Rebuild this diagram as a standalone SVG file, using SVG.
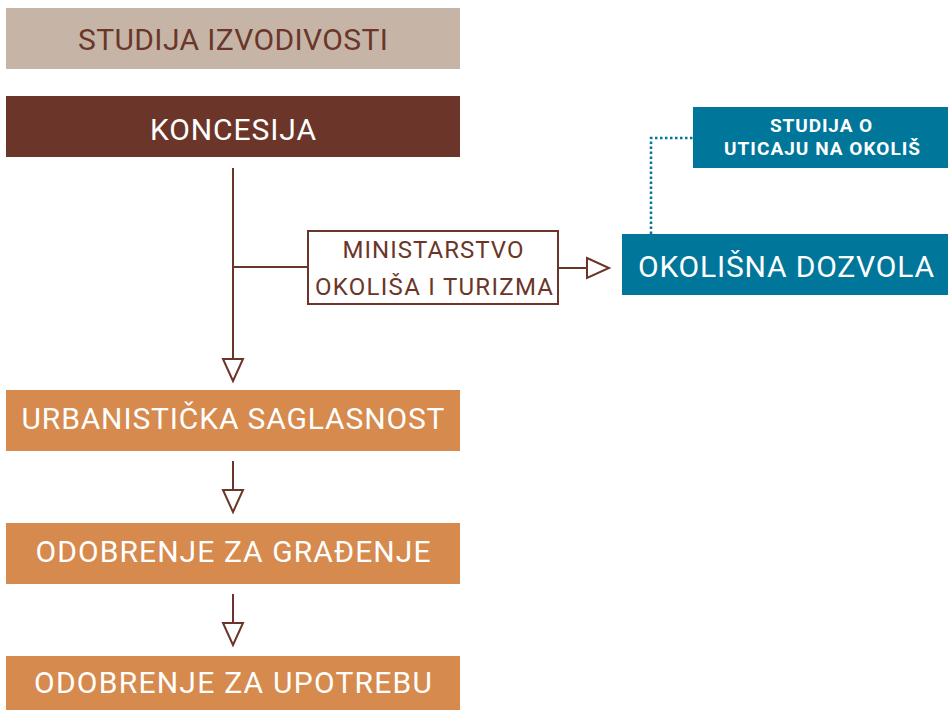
<svg xmlns="http://www.w3.org/2000/svg" width="948" height="710" viewBox="0 0 948 710">
<style>
.t{font-family:Roboto,"DejaVu Sans",sans-serif;text-anchor:middle}
.big{font-size:30px;fill:#fff}
.con{fill:none;stroke:#6b3629;stroke-width:2}
.head{fill:#fff;stroke:#6b3629;stroke-width:2;stroke-linejoin:miter}
</style>
<rect width="948" height="710" fill="#fff"/>
<g id="connectors">
<path class="con" d="M233 168V380M233 267H308M558 268H607M233 461V510M233 594V643"/>
<path class="head" d="M223 359L233 381L243 359Z"/>
<path class="head" d="M223 490L233 512L243 490Z"/>
<path class="head" d="M223 623L233 645L243 623Z"/>
<path class="head" d="M587 258L609 268L587 278Z"/>
<path d="M651 234V138H693" fill="none" stroke="#00769b" stroke-width="2.5" stroke-dasharray="2.5 2.5"/>
</g>
<g id="studija-izvodivosti">
<rect x="6" y="8" width="454" height="61" fill="#c6b5a7"/>
<text class="t" x="233" y="50" font-size="30" fill="#6b3629" textLength="310" lengthAdjust="spacing">STUDIJA IZVODIVOSTI</text>
</g>
<g id="koncesija">
<rect x="6" y="96" width="454" height="61" fill="#6b3629"/>
<text class="t big" x="233" y="140" textLength="166" lengthAdjust="spacing">KONCESIJA</text>
</g>
<g id="ministarstvo">
<rect x="308" y="231" width="250" height="73" fill="#fff" stroke="#6b3629" stroke-width="2"/>
<text class="t" x="433" y="258" font-size="24" fill="#6b3629" textLength="181" lengthAdjust="spacing">MINISTARSTVO</text>
<text class="t" x="434" y="295" font-size="24" fill="#6b3629" textLength="238" lengthAdjust="spacing">OKOLIŠA I TURIZMA</text>
</g>
<g id="okolisna-dozvola">
<rect x="622" y="234" width="326" height="61" fill="#00769b"/>
<text class="t big" x="786" y="277" textLength="296" lengthAdjust="spacing">OKOLIŠNA DOZVOLA</text>
</g>
<g id="studija-uticaj">
<rect x="693" y="107" width="255" height="61" fill="#00769b"/>
<text class="t" x="821" y="132" font-size="19" font-weight="bold" fill="#fff" textLength="102" lengthAdjust="spacing">STUDIJA O</text>
<text class="t" x="822" y="155" font-size="19" font-weight="bold" fill="#fff" textLength="196" lengthAdjust="spacing">UTICAJU NA OKOLIŠ</text>
</g>
<g id="urbanisticka">
<rect x="6" y="390" width="454" height="61" fill="#d68a4e"/>
<text class="t big" x="233" y="429" textLength="423" lengthAdjust="spacing">URBANISTIČKA SAGLASNOST</text>
</g>
<g id="gradjenje">
<rect x="6" y="523" width="454" height="61" fill="#d68a4e"/>
<text class="t big" x="233" y="562" textLength="395" lengthAdjust="spacing">ODOBRENJE ZA GRAĐENJE</text>
</g>
<g id="upotreba">
<rect x="6" y="656" width="454" height="54" fill="#d68a4e"/>
<text class="t big" x="233" y="693" textLength="398" lengthAdjust="spacing">ODOBRENJE ZA UPOTREBU</text>
</g>
</svg>
